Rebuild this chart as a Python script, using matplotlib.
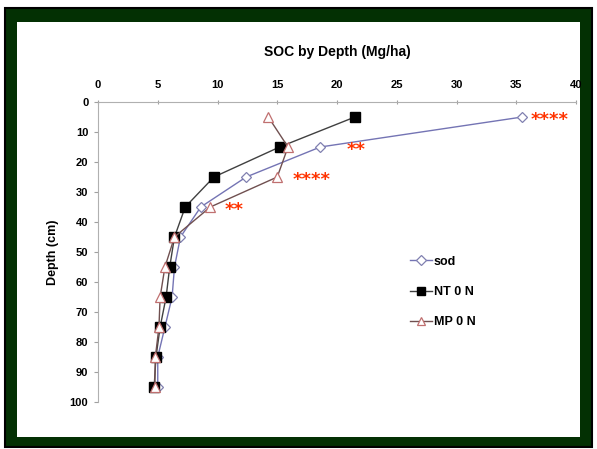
import matplotlib.pyplot as plt
from matplotlib.patches import Rectangle

plt.rcParams['font.family'] = ['Liberation Sans', 'DejaVu Sans']
plt.rcParams['font.weight'] = 'bold'

depth = [5, 15, 25, 35, 45, 55, 65, 75, 85, 95]
sod = [35.5, 18.6, 12.4, 8.6, 6.9, 6.4, 6.2, 5.6, 5.0, 5.0]
nt = [21.5, 15.2, 9.7, 7.3, 6.4, 6.0, 5.7, 5.2, 4.85, 4.7]
mp = [14.25, 15.9, 15.0, 9.4, 6.4, 5.6, 5.2, 5.1, 4.8, 4.75]

stars = ['****', '**', '****', '**']
star_x = [36.2, 20.8, 16.3, 10.6]
star_y = [5, 15, 25, 35]

fig = plt.figure(figsize=(5.97, 4.49), dpi=100)
# frame drawn in a background axes
bg = fig.add_axes([0, 0, 1, 1], zorder=-1)
bg.set_xlim(0, 597)
bg.set_ylim(449, 0)
bg.axis('off')
bg.add_patch(Rectangle((5, 8), 587, 439, facecolor='#033003', edgecolor='black', lw=1.5))
bg.add_patch(Rectangle((17, 22), 563, 415, facecolor='white', edgecolor='none'))

ax = fig.add_axes([98/597, 1-402/449, 478/597, 300/449])
ax.patch.set_alpha(0)

ax.plot(sod, depth, color='#7474b4', lw=1, marker='D', ms=5.5, mfc='white', mec='#8080b0', mew=0.9, label='sod')
ax.plot(nt, depth, color='#404040', lw=1, marker='s', ms=6.5, mfc='black', mec='black', label='NT 0 N')
ax.plot(mp, depth, color='#705050', lw=1, marker='^', ms=7.5, mfc='white', mec='#c07070', mew=0.9, label='MP 0 N')

for s, x, y in zip(stars, star_x, star_y):
    ax.text(x, y + 1, s, color='#ff3300', fontsize=13, ha='left', va='center', family='DejaVu Sans')

ax.set_xlim(0, 40)
ax.set_ylim(100, 0)
ax.set_xticks(range(0, 41, 5))
ax.set_yticks(range(0, 101, 10))
ax.xaxis.tick_top()
ax.tick_params(axis='x', colors='#a0a0a0', labelcolor='black', labelsize=8, length=3, direction='inout', pad=7)
ax.tick_params(axis='y', colors='#a0a0a0', labelcolor='black', labelsize=8, length=3, direction='out', pad=4)
for side in ['right', 'bottom']:
    ax.spines[side].set_visible(False)
for side in ['left', 'top']:
    ax.spines[side].set_color('#b0b0b0')

ax.set_ylabel('Depth (cm)', fontsize=9, fontweight='bold', labelpad=8)
fig.text(337/597, 1-52/449, 'SOC by Depth (Mg/ha)', ha='center', va='center', fontsize=10, fontweight='bold')

leg = ax.legend(loc='upper left', bbox_to_anchor=(0.63, 0.525), frameon=False, fontsize=9,
                labelspacing=1.45, handlelength=1.7, handletextpad=0.15, markerscale=0.85)

fig.savefig('out.png', dpi=100)
